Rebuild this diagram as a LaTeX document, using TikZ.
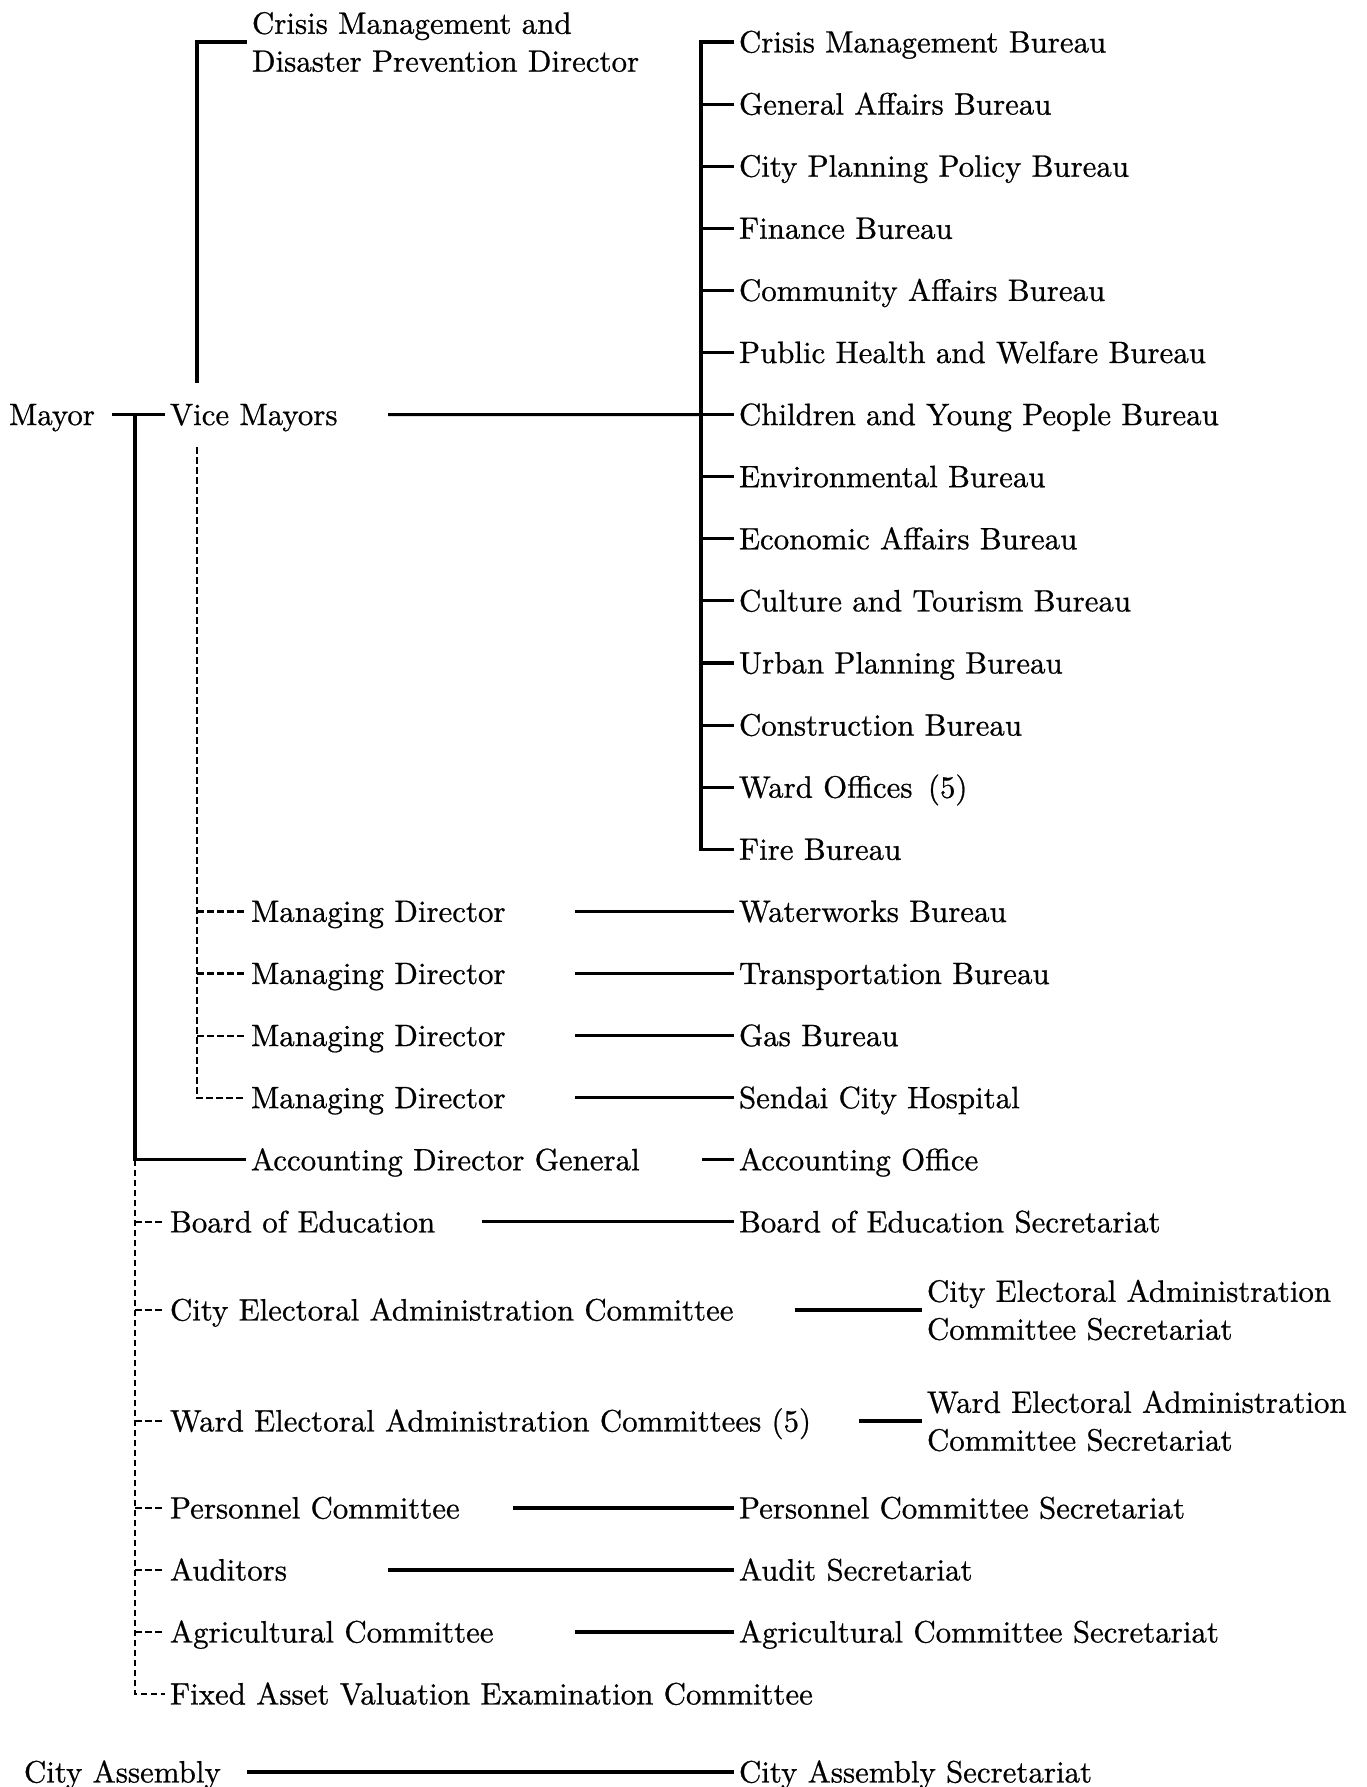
\documentclass[tikz,border=0pt]{standalone}
\usepackage{fontspec}
\setmainfont{lmroman10-regular}[Extension=.otf, FakeBold=0.7]
\begin{document}
\begin{tikzpicture}[x=1bp,y=-1bp,
  lbl/.style={inner sep=0pt, outer xsep=5bp, outer ysep=0pt, anchor=west,
    text height=21pt, text depth=0pt, font=\fontsize{31}{38}\selectfont},
  lbltwo/.style={inner sep=0pt, outer xsep=5bp, outer ysep=0pt, anchor=west,
    align=left, font=\fontsize{31}{38}\selectfont},
  solidln/.style={line width=3.1bp},
  dashln/.style={line width=2.2bp, dash pattern=on 6.5bp off 3.5bp}]
\useasboundingbox (0,0) rectangle (1367,1787);

% ---- top part ----
\node[lbl] (mayor) at (4,414.6) {Mayor};
\node[lbl] (vice) at (165,414.6) {Vice Mayors};
\node[lbltwo] (crisis) at (247,42) {Crisis Management and\\Disaster Prevention Director};

\foreach \t [count=\i from 0] in {Crisis Management Bureau, General Affairs Bureau,
  City Planning Policy Bureau, Finance Bureau, Community Affairs Bureau,
  Public Health and Welfare Bureau, Children and Young People Bureau,
  Environmental Bureau, Economic Affairs Bureau, Culture and Tourism Bureau,
  Urban Planning Bureau, Construction Bureau, {Ward Offices\hspace{0.5em}(5)}, Fire Bureau}
  \node[lbl] (b\i) at (734,42+62.1*\i) {\t};

\coordinate (ml) at (112,414.6);
\coordinate (mj) at (135,414.6);
\coordinate (vtop) at (197,383);
\coordinate (vdt) at (197,447);
\coordinate (vml) at (388,414.6);
\coordinate (bt) at (701,42);

\draw[solidln] (ml) -- (vice.west);
\draw[solidln] (vtop) |- (crisis.west);
\draw[solidln] (vml) -- (b6.west -| bt);
\draw[solidln] (b0.west) -- (b0.west -| bt) -- (b13.west -| bt) -- (b13.west);
\foreach \i in {1,...,12} \draw[solidln] (b\i.west -| bt) -- (b\i.west);

% ---- managing directors ----
\foreach \t [count=\i from 1] in {Waterworks Bureau, Transportation Bureau, Gas Bureau, Sendai City Hospital} {
  \node[lbl] (md\i) at (246,911.4+62.1*\i-62.1) {Managing Director};
  \node[lbl] (w\i) at (734,911.4+62.1*\i-62.1) {\t};
  \coordinate (mdl\i) at (575,911.4+62.1*\i-62.1);
  \draw[solidln] (mdl\i) -- (w\i.west);
}
\draw[dashln] (vdt) |- (md4.west);
\foreach \i in {1,2,3} \draw[dashln] (vdt |- md\i.west) -- (md\i.west);

% ---- accounting ----
\node[lbl] (acc) at (246,1159.8) {Accounting Director General};
\node[lbl] (acco) at (734,1159.8) {Accounting Office};
\coordinate (accl) at (702,1159.8);
\draw[solidln] (accl) -- (acco.west);
\draw[solidln] (mj) |- (acc.west);

% ---- committees ----
\node[lbl] (board) at (165,1221.9) {Board of Education};
\node[lbl] (boards) at (734,1221.9) {Board of Education Secretariat};
\coordinate (boardl) at (482,1221.9);
\draw[solidln] (boardl) -- (boards.west);

\node[lbl] (cityel) at (165,1310) {City Electoral Administration Committee};
\node[lbltwo] (cityels) at (922,1310) {City Electoral Administration\\Committee Secretariat};
\coordinate (cityell) at (795,1310);
\draw[solidln] (cityell) -- (cityels.west);

\node[lbl] (wardel) at (165,1421) {Ward Electoral Administration Committees (5)};
\node[lbltwo] (wardels) at (922,1421) {Ward Electoral Administration\\Committee Secretariat};
\coordinate (wardell) at (859,1421);
\draw[solidln] (wardell) -- (wardels.west);

\node[lbl] (pers) at (165,1508) {Personnel Committee};
\node[lbl] (perss) at (734,1508) {Personnel Committee Secretariat};
\coordinate (persl) at (513,1508);
\draw[solidln] (persl) -- (perss.west);

\node[lbl] (aud) at (165,1570) {Auditors};
\node[lbl] (auds) at (734,1570) {Audit Secretariat};
\coordinate (audl) at (388,1570);
\draw[solidln] (audl) -- (auds.west);

\node[lbl] (agr) at (165,1632) {Agricultural Committee};
\node[lbl] (agrs) at (734,1632) {Agricultural Committee Secretariat};
\coordinate (agrl) at (575,1632);
\draw[solidln] (agrl) -- (agrs.west);

\node[lbl] (fixed) at (165,1694) {Fixed Asset Valuation Examination Committee};

\draw[dashln] (mj |- acc.west) |- (fixed.west);
\foreach \n in {board,cityel,wardel,pers,aud,agr} \draw[dashln] (mj |- \n.west) -- (\n.west);

% ---- assembly ----
\node[lbl] (ca) at (19,1772) {City Assembly};
\node[lbl] (cas) at (734,1772) {City Assembly Secretariat};
\coordinate (cal) at (247,1772);
\draw[solidln] (cal) -- (cas.west);
\end{tikzpicture}
\end{document}
